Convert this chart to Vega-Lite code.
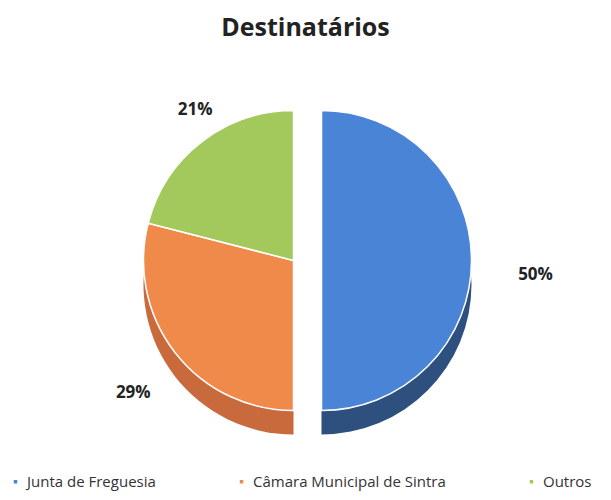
{
  "$schema": "https://vega.github.io/schema/vega-lite/v6.json",
  "width": 611,
  "height": 500,
  "autosize": {"type": "fit", "contains": "padding"},
  "padding": {"left": 8, "right": 8, "top": 16, "bottom": 10},
  "background": "white",
  "title": {"text": "Destinatários", "fontSize": 25, "font": "Open Sans", "fontWeight": "bold", "color": "#222222", "offset": 26},
  "data": {"values": [
    {"destinatario": "Junta de Freguesia", "pct": 50, "label": "50%", "ordem": 1},
    {"destinatario": "Câmara Municipal de Sintra", "pct": 29, "label": "29%", "ordem": 2},
    {"destinatario": "Outros", "pct": 21, "label": "21%", "ordem": 3}
  ]},
  "resolve": {"scale": {"color": "independent"}},
  "layer": [
    {
      "transform": [
        {"stack": "pct", "groupby": [], "sort": [{"field": "ordem"}], "as": ["t0", "t1"]},
        {"filter": "datum.ordem == 1"}
      ],
      "mark": {"type": "arc", "outerRadius": 150, "xOffset": 16, "yOffset": 24},
      "encoding": {
        "theta": {"field": "t0", "type": "quantitative", "scale": {"domain": [0, 100]}},
        "theta2": {"field": "t1"},
        "color": {"field": "destinatario", "type": "nominal", "legend": null,
          "scale": {"domain": ["Junta de Freguesia", "Câmara Municipal de Sintra", "Outros"], "range": ["#2e507e", "#c86a3b", "#55722c"]}}
      }
    },
    {
      "transform": [
        {"stack": "pct", "groupby": [], "sort": [{"field": "ordem"}], "as": ["t0", "t1"]},
        {"filter": "datum.ordem != 1"}
      ],
      "mark": {"type": "arc", "outerRadius": 150, "xOffset": -12, "yOffset": 24},
      "encoding": {
        "theta": {"field": "t0", "type": "quantitative", "scale": {"domain": [0, 100]}},
        "theta2": {"field": "t1"},
        "color": {"field": "destinatario", "type": "nominal", "legend": null,
          "scale": {"domain": ["Junta de Freguesia", "Câmara Municipal de Sintra", "Outros"], "range": ["#2e507e", "#c86a3b", "#55722c"]}}
      }
    },
    {
      "transform": [
        {"stack": "pct", "groupby": [], "sort": [{"field": "ordem"}], "as": ["t0", "t1"]},
        {"filter": "datum.ordem == 1"}
      ],
      "mark": {"type": "arc", "outerRadius": 150, "xOffset": 16, "stroke": "white", "strokeWidth": 1.5},
      "encoding": {
        "theta": {"field": "t0", "type": "quantitative", "scale": {"domain": [0, 100]}},
        "theta2": {"field": "t1"},
        "color": {"field": "destinatario", "type": "nominal", "legend": null,
          "scale": {"domain": ["Junta de Freguesia", "Câmara Municipal de Sintra", "Outros"], "range": ["#4a84d6", "#f08a4b", "#a3c95c"]}}
      }
    },
    {
      "transform": [
        {"stack": "pct", "groupby": [], "sort": [{"field": "ordem"}], "as": ["t0", "t1"]},
        {"filter": "datum.ordem != 1"}
      ],
      "mark": {"type": "arc", "outerRadius": 150, "xOffset": -12, "stroke": "white", "strokeWidth": 1.5},
      "encoding": {
        "theta": {"field": "t0", "type": "quantitative", "scale": {"domain": [0, 100]}},
        "theta2": {"field": "t1"},
        "color": {"field": "destinatario", "type": "nominal",
          "scale": {"domain": ["Junta de Freguesia", "Câmara Municipal de Sintra", "Outros"], "range": ["#4a84d6", "#f08a4b", "#a3c95c"]},
          "legend": {"title": null, "orient": "bottom", "direction": "horizontal", "symbolType": "square", "symbolSize": 25,
            "labelFont": "Open Sans", "labelFontSize": 15, "labelColor": "#333333", "labelLimit": 400, "columnPadding": 78, "offset": 20}}
      }
    },
    {
      "mark": {"type": "text", "radius": 180, "xOffset": 50, "yOffset": 14, "font": "Open Sans", "fontWeight": "bold", "fontSize": 17, "color": "#222222"},
      "encoding": {
        "theta": {"field": "pct", "type": "quantitative", "stack": true},
        "order": {"field": "ordem", "type": "quantitative"},
        "text": {"field": "label", "type": "nominal"},
        "opacity": {"condition": {"test": "datum.ordem == 1", "value": 1}, "value": 0}
      }
    },
    {
      "mark": {"type": "text", "radius": 180, "xOffset": -30, "yOffset": 22, "font": "Open Sans", "fontWeight": "bold", "fontSize": 17, "color": "#222222"},
      "encoding": {
        "theta": {"field": "pct", "type": "quantitative", "stack": true},
        "order": {"field": "ordem", "type": "quantitative"},
        "text": {"field": "label", "type": "nominal"},
        "opacity": {"condition": {"test": "datum.ordem == 2", "value": 1}, "value": 0}
      }
    },
    {
      "mark": {"type": "text", "radius": 180, "xOffset": 0, "yOffset": -8, "font": "Open Sans", "fontWeight": "bold", "fontSize": 17, "color": "#222222"},
      "encoding": {
        "theta": {"field": "pct", "type": "quantitative", "stack": true},
        "order": {"field": "ordem", "type": "quantitative"},
        "text": {"field": "label", "type": "nominal"},
        "opacity": {"condition": {"test": "datum.ordem == 3", "value": 1}, "value": 0}
      }
    }
  ]
}
